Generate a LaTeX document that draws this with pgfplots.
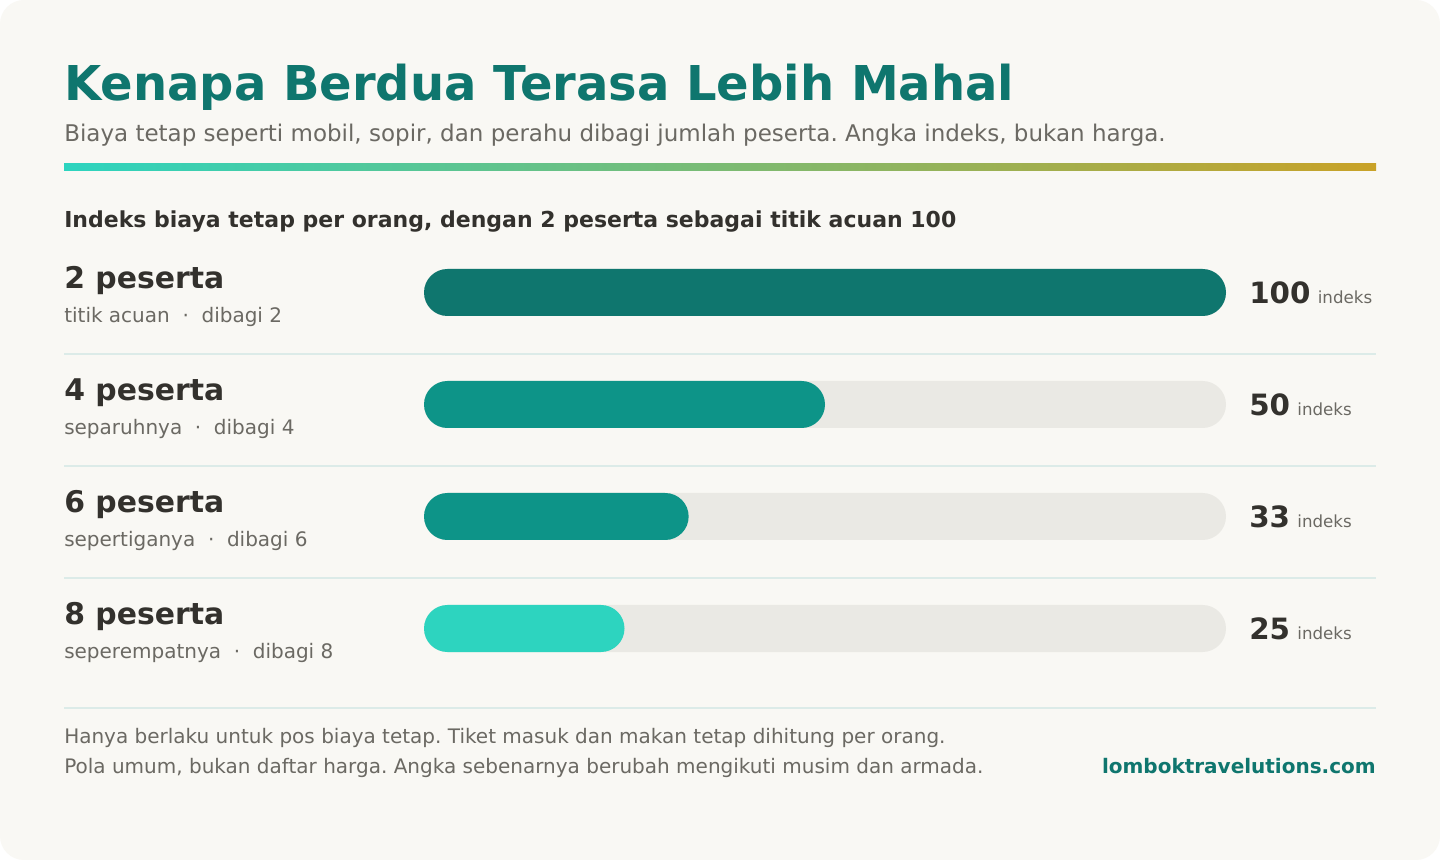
\documentclass[border=0pt]{standalone}
\usepackage{fontspec}
\setmainfont{DejaVu Sans}
\usepackage{pgfplots}
\pgfplotsset{compat=1.18}
\definecolor{card}{HTML}{F9F8F4}
\definecolor{teal}{HTML}{0F766E}
\definecolor{cA}{HTML}{0F766E}
\definecolor{cB}{HTML}{0D9488}
\definecolor{cC}{HTML}{2DD4BF}
\definecolor{track}{HTML}{EAE9E4}
\definecolor{dark}{HTML}{33312D}
\definecolor{grey}{HTML}{6B6963}
\definecolor{sep}{HTML}{DCEBE8}
\definecolor{gL}{HTML}{2DD4BF}
\definecolor{gR}{HTML}{C9A227}
\newcommand{\fs}[1]{\fontsize{#1}{#1}\selectfont}
\frenchspacing
\begin{document}
\begin{tikzpicture}[x=0.75pt,y=0.75pt]
\useasboundingbox (0,0) rectangle (1440,860);
\fill[white] (0,0) rectangle (1440,860);
\fill[card, rounded corners=18pt] (0,0) rectangle (1440,860);
% title
\node[anchor=base west, inner sep=0pt, text=teal] at (64,860-101) {\fs{36pt}\bfseries Kenapa Berdua Terasa Lebih Mahal};
\node[anchor=base west, inner sep=0pt, text=grey] at (64,860-141.5) {\fs{17.24pt}Biaya tetap seperti mobil, sopir, dan perahu dibagi jumlah peserta. Angka indeks, bukan harga.};
\shade[left color=gL, right color=gR] (64,860-171) rectangle (1376,860-164);
\node[anchor=base west, inner sep=0pt, text=dark] at (64,860-228) {\fs{16.5pt}\bfseries Indeks biaya tetap per orang, dengan 2 peserta sebagai titik acuan 100};
% separators
\foreach \yy in {354,466,578,708} {\fill[sep] (64,860-\yy-1) rectangle (1376,860-\yy+1);}
% row labels
\foreach \yc/\lab/\sub/\val in {292.5/2/titik acuan/100, 404.5/4/separuhnya/50, 516.5/6/sepertiganya/33, 628.5/8/seperempatnya/25} {
  \node[anchor=base west, inner sep=0pt, text=dark] at (64,860-\yc+3.5) {\fs{22.4pt}\bfseries \lab\ peserta};
  \node[anchor=base west, inner sep=0pt, text=grey] at (64,860-\yc-30.5) {\fs{15pt}\sub\hspace{9.5pt}·\hspace{9.5pt}dibagi \lab};
  \node[anchor=base west, inner sep=0pt] at (1249,860-\yc-11.5) {\fs{22pt}\bfseries\color{dark}\val\hspace{5.5pt}\fs{12.5pt}\mdseries\color{grey}indeks};
}
% footer
\node[anchor=base west, inner sep=0pt, text=grey] at (64,860-744) {\fs{15pt}Hanya berlaku untuk pos biaya tetap. Tiket masuk dan makan tetap dihitung per orang.};
\node[anchor=base west, inner sep=0pt, text=grey] at (64,860-774) {\fs{15pt}Pola umum, bukan daftar harga. Angka sebenarnya berubah mengikuti musim dan armada.};
\node[anchor=base east, inner sep=0pt, text=teal] at (1376,860-774) {\fs{15pt}\bfseries lomboktravelutions.com};
% bars
\begin{axis}[at={(318pt,131.625pt)}, anchor=south west, scale only axis,
  width=601.5pt, height=336pt, xmin=0, xmax=100, ymin=0.5, ymax=4.5,
  y dir=reverse, hide axis, xbar, bar width=35.25pt, clip=false]
\addplot[fill=track, draw=none, bar shift=0pt, rounded corners=17.6pt] coordinates {(100,1) (100,2) (100,3) (100,4)};
\addplot[fill=cA, draw=none, bar shift=0pt, rounded corners=17.6pt] coordinates {(100,1)};
\addplot[fill=cB, draw=none, bar shift=0pt, rounded corners=17.6pt] coordinates {(50,2) (33,3)};
\addplot[fill=cC, draw=none, bar shift=0pt, rounded corners=17.6pt] coordinates {(25,4)};
\end{axis}
\end{tikzpicture}
\end{document}
